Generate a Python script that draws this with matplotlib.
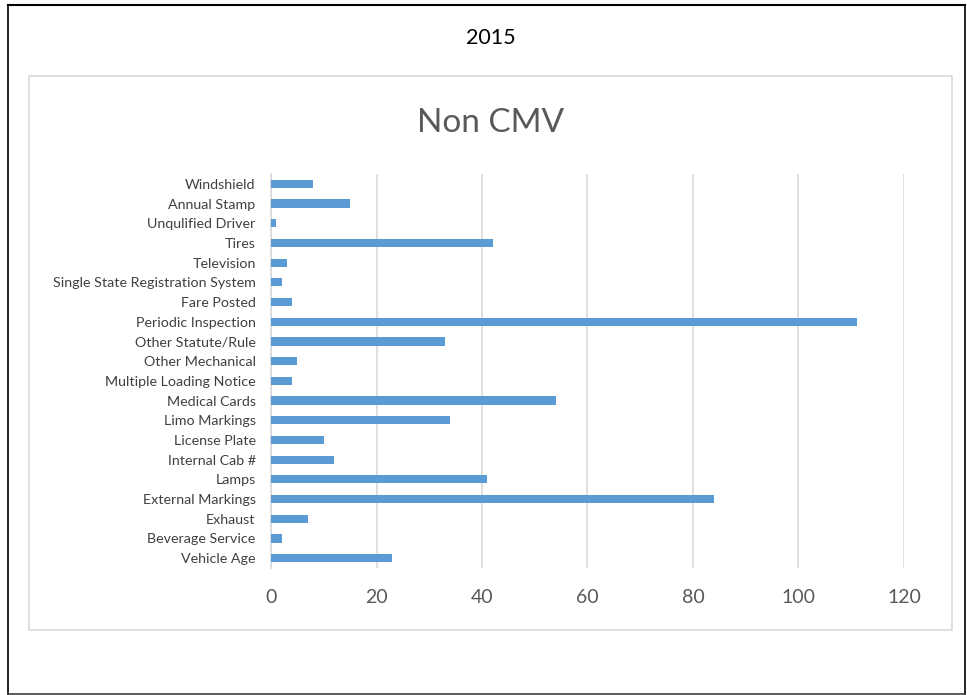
import matplotlib
matplotlib.use("Agg")
import matplotlib.pyplot as plt
from matplotlib.patches import Rectangle
from matplotlib.lines import Line2D

categories = ["Vehicle Age", "Beverage Service", "Exhaust", "External Markings", "Lamps",
              "Internal Cab #", "License Plate", "Limo Markings", "Medical Cards",
              "Multiple Loading Notice", "Other Mechanical", "Other Statute/Rule",
              "Periodic Inspection", "Fare Posted", "Single State Registration System",
              "Television", "Tires", "Unqulified Driver", "Annual Stamp", "Windshield"]
values = [23, 2, 7, 84, 41, 12, 10, 34, 54, 4, 5, 33, 111, 4, 2, 3, 42, 1, 15, 8]
xticks = [0, 20, 40, 60, 80, 100, 120]

plt.rcParams['font.family'] = ['Lato', 'DejaVu Sans']

W, H = 967, 695
fig = plt.figure(figsize=(W/100, H/100), dpi=100)

def fx(x): return x / W
def fy(y): return 1 - y / H

# outer frame
fig.add_artist(Line2D([fx(8), fx(965)], [fy(5), fy(5)], color='black', lw=1.5, transform=fig.transFigure))
fig.add_artist(Line2D([fx(8), fx(8)], [fy(5), fy(694)], color='black', lw=1.2, transform=fig.transFigure))
fig.add_artist(Line2D([fx(965), fx(965)], [fy(5), fy(694)], color='black', lw=1.2, transform=fig.transFigure))
fig.add_artist(Line2D([fx(8), fx(965)], [fy(693.5), fy(693.5)], color='#404040', lw=1.2, transform=fig.transFigure))

# inner chart box
fig.add_artist(Rectangle((fx(29), fy(630)), fx(952) - fx(29), fy(76) - fy(630),
                         fill=False, edgecolor='#D9D9D9', lw=1.2, transform=fig.transFigure))

fig.text(fx(491), fy(38), "2015", ha='center', va='center', fontsize=15.5, color='black')
fig.text(fx(491), fy(123), "Non CMV", ha='center', va='center', fontsize=24, color='#595959')

ax = fig.add_axes([fx(271), fy(568), fx(904) - fx(271), fy(174) - fy(568)])
y = list(range(len(categories)))
ax.barh(y, values, height=0.42, color='#5B9BD5', zorder=3)
ax.set_xlim(0, 120)
ax.set_ylim(-0.5, len(categories) - 0.5)
ax.set_xticks(xticks)
ax.set_xticklabels([str(t) for t in xticks], fontsize=14, color='#595959')
ax.set_yticks(y)
ax.set_yticklabels(categories, fontsize=10.3, color='#404040')
ax.tick_params(axis='both', length=0)
ax.tick_params(axis='x', pad=15)
ax.tick_params(axis='y', pad=11)
ax.grid(axis='x', color='#D9D9D9', lw=1.2, zorder=0)
for s in ['top', 'right', 'bottom']:
    ax.spines[s].set_visible(False)
ax.spines['left'].set_color('#D9D9D9')
ax.spines['left'].set_linewidth(1.2)

fig.savefig("out.png", dpi=100)
